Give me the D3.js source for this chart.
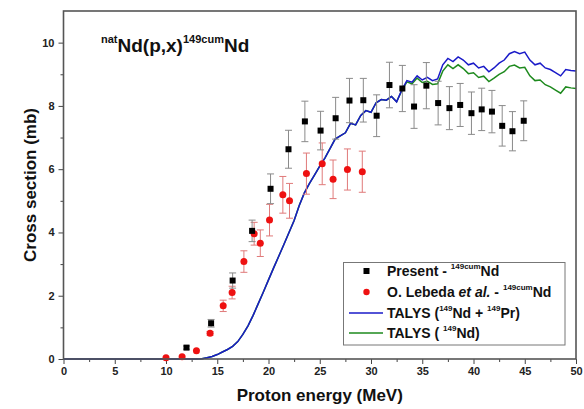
<!DOCTYPE html>
<html>
<head>
<meta charset="utf-8">
<script src="https://cdn.jsdelivr.net/npm/d3@7"></script>
<style>
  body { margin: 0; background: #fff; }
  svg { font-family: "Liberation Sans", Arial, sans-serif; }
</style>
</head>
<body>
<div class="chart"></div>
<script>
// present work, 149cumNd
const presentE = [12.0, 14.4, 16.5, 18.4, 20.2, 21.95, 23.55, 25.08, 26.55, 27.9, 29.25, 30.55, 31.8, 33.06, 34.2, 35.4, 36.55, 37.65, 38.7, 39.8, 40.8, 41.8, 42.8, 43.8, 44.9];
const presentCS = [0.36, 1.13, 2.48, 4.05, 5.38, 6.63, 7.51, 7.22, 7.61, 8.17, 8.18, 7.69, 8.66, 8.55, 7.98, 8.64, 8.09, 7.93, 8.03, 7.77, 7.89, 7.82, 7.37, 7.2, 7.53];
const presentErr = [0.05, 0.12, 0.24, 0.34, 0.47, 0.6, 0.64, 0.61, 0.66, 0.7, 0.69, 0.66, 0.72, 0.73, 0.69, 0.73, 0.69, 0.68, 0.68, 0.67, 0.67, 0.67, 0.64, 0.62, 0.63];

// O. Lebeda et al.
const lebedaE = [10.0, 11.57, 12.97, 14.3, 15.58, 16.45, 17.6, 18.6, 19.2, 20.1, 21.4, 22.05, 23.7, 25.24, 26.3, 27.7, 29.15];
const lebedaCS = [0.04, 0.07, 0.26, 0.81, 1.68, 2.1, 3.08, 3.96, 3.66, 4.39, 5.19, 5.0, 5.86, 6.17, 5.68, 5.99, 5.92];
const lebedaErr = [0, 0, 0, 0.06, 0.18, 0.2, 0.34, 0.36, 0.42, 0.5, 0.58, 0.55, 0.65, 0.66, 0.61, 0.65, 0.65];

// TALYS curves
const talysE = [0, 13, 13.5, 14, 14.5, 15, 15.5, 16, 16.5, 17, 17.5, 18, 18.5, 19, 19.5, 20, 20.5, 21, 21.5, 22, 22.5, 23, 23.5, 24, 24.5, 25, 25.5, 26, 26.5, 27, 27.5, 28, 28.5, 29, 29.5, 30, 30.5, 31, 31.5, 32, 32.5, 33, 33.5, 34, 34.5, 35, 35.5, 36, 36.5, 37, 37.5, 38, 38.5, 39, 39.5, 40, 40.5, 41, 41.5, 42, 42.5, 43, 43.5, 44, 44.5, 45, 45.5, 46, 46.5, 47, 47.5, 48, 48.5, 49, 49.5, 50];
const talysNdPr = [0, 0, 0.01, 0.04, 0.08, 0.14, 0.22, 0.3, 0.4, 0.55, 0.78, 1.05, 1.38, 1.75, 2.12, 2.5, 2.88, 3.25, 3.62, 4.0, 4.38, 4.85, 5.25, 5.55, 5.82, 6.1, 6.35, 6.65, 6.95, 7.05, 7.15, 7.45, 7.4, 7.7, 7.85, 7.8, 8.1, 8.2, 8.18, 8.3, 8.13, 8.5, 8.8, 8.75, 8.95, 8.82, 8.9, 8.8, 8.85, 9.3, 9.5, 9.4, 9.55, 9.45, 9.3, 9.35, 9.2, 9.25, 9.08, 9.2, 9.35, 9.45, 9.65, 9.72, 9.65, 9.7, 9.45, 9.3, 9.35, 9.2, 9.15, 9.05, 8.95, 9.15, 9.12, 9.1];
const talysNd = [0, 0, 0.01, 0.04, 0.08, 0.14, 0.22, 0.3, 0.4, 0.55, 0.78, 1.05, 1.38, 1.75, 2.12, 2.5, 2.88, 3.25, 3.62, 4.0, 4.38, 4.85, 5.25, 5.55, 5.82, 6.1, 6.35, 6.65, 6.95, 7.05, 7.15, 7.45, 7.4, 7.7, 7.85, 7.8, 8.1, 8.2, 8.18, 8.3, 8.13, 8.48, 8.76, 8.7, 8.88, 8.74, 8.78, 8.68, 8.7, 9.1, 9.3, 9.18, 9.3, 9.18, 9.02, 9.05, 8.9, 8.94, 8.77, 8.88, 9.0, 9.08, 9.25, 9.29, 9.2, 9.22, 8.95, 8.8, 8.82, 8.67, 8.6, 8.5, 8.4, 8.6, 8.57, 8.55];

const xTicks = [0, 5, 10, 15, 20, 25, 30, 35, 40, 45, 50];
const yTicks = [0, 2, 4, 6, 8, 10];

const W = 584, H = 409;
const margin = { top: 11, right: 8, bottom: 50, left: 63.5 };

const svg = d3.select(".chart").append("svg")
    .attr("width", W)
    .attr("height", H);

const x = d3.scaleLinear().domain([0, 50]).range([margin.left, W - margin.right]);
const y = d3.scaleLinear().domain([0, 11]).range([H - margin.bottom, margin.top]);

const axisColor = "#444";

// minor ticks
svg.append("g")
    .attr("transform", `translate(0,${y(0)})`)
    .call(d3.axisBottom(x).tickValues(d3.range(2.5, 50, 5)).tickSize(3).tickFormat(""))
    .call(g => g.select(".domain").remove())
    .call(g => g.selectAll("line").attr("stroke", axisColor));
svg.append("g")
    .attr("transform", `translate(${x(0)},0)`)
    .call(d3.axisLeft(y).tickValues([1, 3, 5, 7, 9]).tickSize(3).tickFormat(""))
    .call(g => g.select(".domain").remove())
    .call(g => g.selectAll("line").attr("stroke", axisColor));

// major ticks
svg.append("g")
    .attr("transform", `translate(0,${y(0)})`)
    .call(d3.axisBottom(x).tickValues(xTicks).tickSize(5).tickPadding(3))
    .call(g => g.select(".domain").remove())
    .call(g => g.selectAll("line").attr("stroke", axisColor))
    .call(g => g.selectAll("text").attr("fill", "#222").attr("font-size", 11).attr("font-weight", "bold"));
svg.append("g")
    .attr("transform", `translate(${x(0)},0)`)
    .call(d3.axisLeft(y).tickValues(yTicks).tickSize(5).tickPadding(4))
    .call(g => g.select(".domain").remove())
    .call(g => g.selectAll("line").attr("stroke", axisColor))
    .call(g => g.selectAll("text").attr("fill", "#222").attr("font-size", 11).attr("font-weight", "bold"));

// TALYS lines
const line = (vals) => d3.line().x((d, i) => x(talysE[i])).y(d => y(d))(vals);
svg.append("path").attr("d", line(talysNd))
    .attr("fill", "none").attr("stroke", "#1e8a1e").attr("stroke-width", 1.5);
svg.append("path").attr("d", line(talysNdPr))
    .attr("fill", "none").attr("stroke", "#1a1ac8").attr("stroke-width", 1.5);

// error bars
const errBars = (E, V, Er, color) => {
    const g = svg.append("g").attr("stroke", color).attr("stroke-width", 1);
    E.forEach((e, i) => {
        if (Er[i] <= 0.02) return;
        const cx = x(e), y1 = y(V[i] - Er[i]), y2 = y(V[i] + Er[i]);
        g.append("line").attr("x1", cx).attr("x2", cx).attr("y1", y1).attr("y2", y2);
        g.append("line").attr("x1", cx - 3.5).attr("x2", cx + 3.5).attr("y1", y1).attr("y2", y1);
        g.append("line").attr("x1", cx - 3.5).attr("x2", cx + 3.5).attr("y1", y2).attr("y2", y2);
    });
};
errBars(lebedaE, lebedaCS, lebedaErr, "#e07a7a");
errBars(presentE, presentCS, presentErr, "#8a8a8a");

svg.append("g").selectAll("circle")
    .data(lebedaE)
    .enter()
    .append("circle")
    .attr("cx", d => x(d))
    .attr("cy", (d, i) => y(lebedaCS[i]))
    .attr("r", 3.5)
    .attr("fill", "#ee1111");

svg.append("g").selectAll("rect")
    .data(presentE)
    .enter()
    .append("rect")
    .attr("x", d => x(d) - 3)
    .attr("y", (d, i) => y(presentCS[i]) - 3)
    .attr("width", 6)
    .attr("height", 6)
    .attr("fill", "#000");

// frame
svg.append("rect")
    .attr("x", x(0)).attr("y", y(11))
    .attr("width", x(50) - x(0)).attr("height", y(0) - y(11))
    .attr("fill", "none").attr("stroke", "#555").attr("stroke-width", 1.6);

// title
const title = svg.append("text").attr("x", 101).attr("y", 52)
    .attr("font-weight", "bold").attr("font-size", 19).attr("fill", "#111");
title.append("tspan").attr("font-size", 11).attr("dy", -9).text("nat");
title.append("tspan").attr("dy", 9).text("Nd(p,x)");
title.append("tspan").attr("font-size", 11).attr("dy", -9).text("149cum");
title.append("tspan").attr("dy", 9).text("Nd");

// axis labels
svg.append("text")
    .attr("x", (x(0) + x(50)) / 2).attr("y", 401)
    .attr("text-anchor", "middle").attr("font-weight", "bold").attr("font-size", 17).attr("fill", "#111")
    .text("Proton energy (MeV)");
svg.append("text")
    .attr("transform", `translate(36,${(y(0) + y(11)) / 2}) rotate(-90)`)
    .attr("text-anchor", "middle").attr("font-weight", "bold").attr("font-size", 17).attr("fill", "#111")
    .text("Cross section (mb)");

// legend
const lg = svg.append("g");
lg.append("rect").attr("x", 343.5).attr("y", 262.5).attr("width", 221.5).attr("height", 82.5)
    .attr("fill", "#fff").attr("stroke", "#777").attr("stroke-width", 1);
const rowY = [271, 292, 313, 333];
const symX = 366.5, txtX = 387;
lg.append("rect").attr("x", symX - 3).attr("y", rowY[0] - 3).attr("width", 6).attr("height", 6).attr("fill", "#000");
lg.append("circle").attr("cx", symX).attr("cy", rowY[1]).attr("r", 3.2).attr("fill", "#ee1111");
lg.append("line").attr("x1", 349).attr("x2", 383).attr("y1", rowY[2]).attr("y2", rowY[2])
    .attr("stroke", "#1a1ac8").attr("stroke-width", 1.5);
lg.append("line").attr("x1", 349).attr("x2", 383).attr("y1", rowY[3]).attr("y2", rowY[3])
    .attr("stroke", "#1e8a1e").attr("stroke-width", 1.5);

const legendRows = [
    [["Present - "], ["149cum", "sup"], ["Nd"]],
    [["O. Lebeda "], ["et al.", "it"], [" - "], ["149cum", "sup"], ["Nd"]],
    [["TALYS ("], ["149", "sup"], ["Nd + "], ["149", "sup"], ["Pr)"]],
    [["TALYS ( "], ["149", "sup"], ["Nd)"]]
];
legendRows.forEach((parts, r) => {
    const t = lg.append("text").attr("x", txtX).attr("y", rowY[r] + 5)
        .attr("font-weight", "bold").attr("font-size", 14).attr("fill", "#111");
    let up = false;
    parts.forEach(([s, k]) => {
        const ts = t.append("tspan").text(s);
        if (k === "sup") {
            ts.attr("font-size", 8).attr("dy", up ? 0 : -7);
            up = true;
        } else {
            if (up) ts.attr("dy", 7);
            up = false;
            if (k === "it") ts.attr("font-style", "italic");
        }
    });
});
</script>
</body>
</html>
